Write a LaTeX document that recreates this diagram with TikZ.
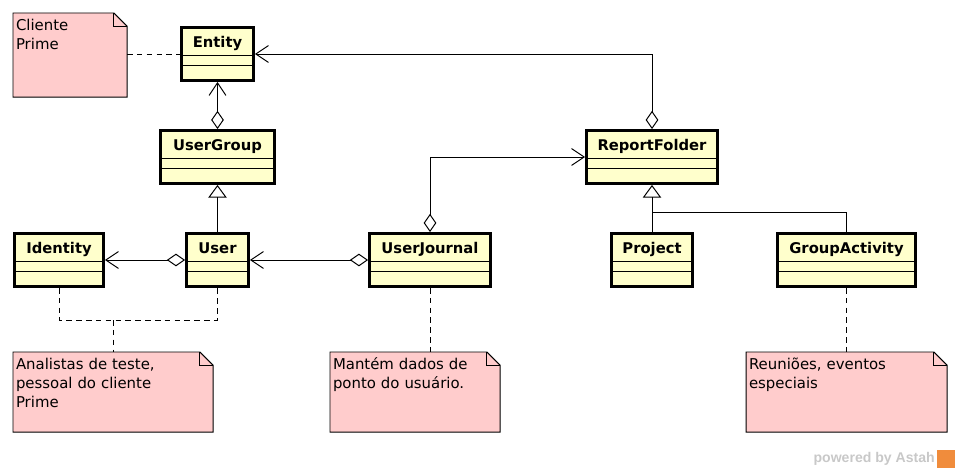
\documentclass[tikz,border=0pt]{standalone}
\usepackage{fontspec}
\setmainfont{DejaVu Sans}
\newfontfamily\markfont{Liberation Sans}
\definecolor{ClassFill}{RGB}{255,255,204}
\definecolor{NoteFill}{RGB}{255,204,204}
\definecolor{MarkGray}{RGB}{200,200,200}
\definecolor{MarkOrange}{RGB}{240,140,60}
\usetikzlibrary{arrows.meta,backgrounds}

\begin{document}
\begin{tikzpicture}[
      x=0.025cm, y=-0.025cm,
      every node/.style={font=\fontsize{10}{13.5}\selectfont},
      cls/.style={rectangle, draw, line width=2pt, fill=ClassFill, minimum width=#1,
                  inner xsep=0pt, inner ysep=0.1cm, text height=0.41cm, text depth=0.715cm,
                  font=\fontsize{10.5}{12}\selectfont\bfseries,
                  path picture={
                    \foreach \d in {0.71cm,0.96cm}
                      \draw[line width=0.7pt] ([yshift=-\d]path picture bounding box.north west)
                        -- ([yshift=-\d]path picture bounding box.north east);}},
      note/.style 2 args={anchor=north west, inner xsep=0.075cm, inner ysep=0.1cm, outer sep=0pt,
                  align=left, text width=#1, text height=0.345cm, text depth=#2,
                  font=\fontsize{10.6}{13.5}\selectfont},
      notebg/.style={fill=NoteFill, draw, line width=0.7pt},
      agg/.style={line width=0.7pt, {Diamond[open,length=13pt,width=9pt]}-{Straight Barb[length=9pt,width=12pt]}},
      gen/.style={line width=0.7pt, -{Triangle[open,length=9pt,width=13pt]}},
      link/.style={line width=0.7pt, dash pattern=on 4pt off 3pt}
    ]
      \useasboundingbox (0,0) rectangle (960,472);

      % classes
      \node[cls=1.8cm] (entity) at (217.5,54) {Entity};
      \node[cls=2.85cm] (usergroup) at (217.5,157) {UserGroup};
      \node[cls=2.225cm] (identity) at (59,260) {Identity};
      \node[cls=1.55cm] (user) at (217.5,260) {User};
      \node[cls=3.025cm] (journal) at (430,260) {UserJournal};
      \node[cls=3.275cm] (folder) at (652,157) {ReportFolder};
      \node[cls=2.025cm] (project) at (652,260) {Project};
      \node[cls=3.45cm] (activity) at (846.5,260) {GroupActivity};

      % notes
      \node[note={2.7cm}{1.555cm}] (primenote) at (13,13) {Cliente\\Prime};
      \node[note={4.85cm}{1.455cm}] (usernote) at (13,352) {Analistas de teste,\\pessoal do cliente\\Prime};
      \node[note={4.1cm}{1.455cm}] (journalnote) at (330,352) {Mantém dados de\\ponto do usuário.};
      \node[note={4.875cm}{1.455cm}] (activitynote) at (746,352) {Reuniões, eventos\\especiais};
      \begin{scope}[on background layer]
        \foreach \n in {primenote,usernote,journalnote,activitynote}{
          \draw[notebg] (\n.south west) -- (\n.north west) -- ([xshift=-0.33cm]\n.north east)
            -- ([yshift=-0.33cm]\n.north east) -- (\n.south east) -- cycle;
          \draw[line width=0.7pt] ([xshift=-0.33cm]\n.north east) |- ([yshift=-0.33cm]\n.north east);
        }
      \end{scope}

      \coordinate (fork) at (652,212);
      \coordinate (split) at (113,320);

      % associations
      \draw[agg] (folder.north) |- (entity.east);
      \draw[agg] (usergroup.north) -- (entity.south);
      \draw[agg] (user.west) -- (identity.east);
      \draw[agg] (journal.west) -- (user.east);
      \draw[agg] (journal.north) |- (folder.west);
      \draw[gen] (user.north) -- (usergroup.south);
      \draw[gen] (project.north) -- (folder.south);
      \draw[line width=0.7pt] (activity.north) |- (fork);

      % note links
      \draw[link] (entity.west -| primenote.east) -- (entity.west);
      \draw[link] (identity.south) |- (split) -| (user.south);
      \draw[link] (split) -- (split |- usernote.north);
      \draw[link] (journal.south) -- (journal.south |- journalnote.north);
      \draw[link] (activity.south) -- (activity.south |- activitynote.north);

      \node[font=\markfont\fontsize{10}{12}\selectfont\bfseries, text=MarkGray, anchor=east, inner sep=0pt] (powered) at (935,459) {powered by Astah};
      \node[fill=MarkOrange, minimum size=0.45cm, inner sep=0pt, anchor=west] (logo) at (937,459) {};
    \end{tikzpicture}
\end{document}
